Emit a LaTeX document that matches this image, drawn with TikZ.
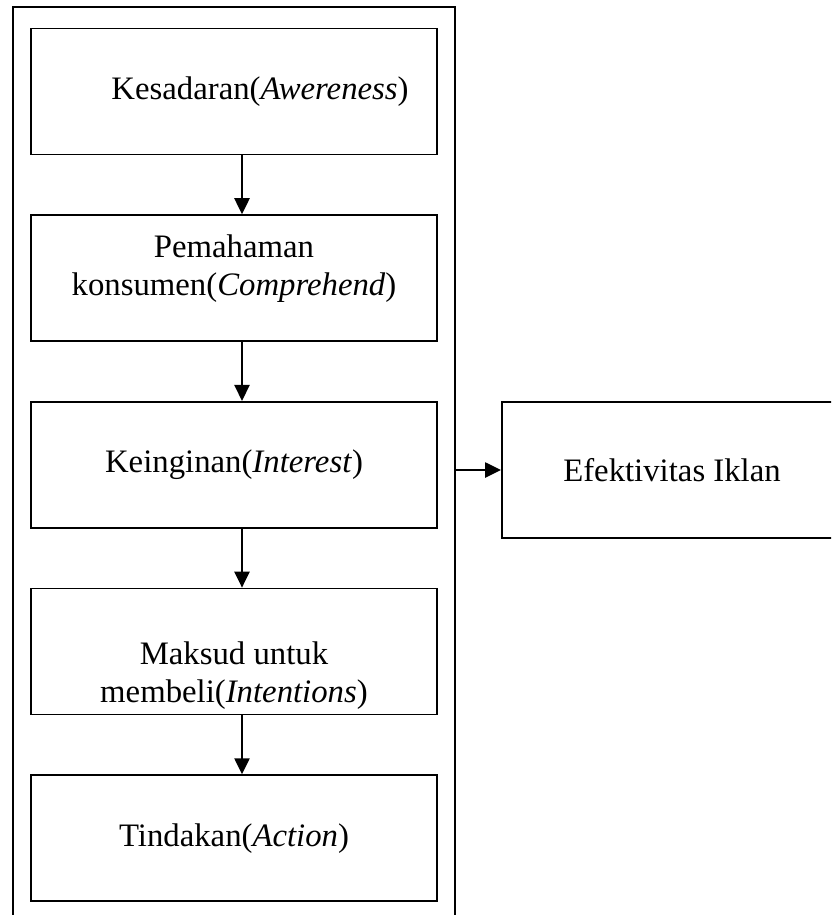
\documentclass[tikz,border=0pt]{standalone}
\usepackage{fontspec}
\setmainfont{Liberation Serif}
\usetikzlibrary{positioning,arrows.meta}
\tikzset{
  stage/.style={draw, line width=1.3pt, minimum width=10.15cm, minimum height=3.15cm, inner sep=0pt},
  flow/.style={-{Triangle[length=4mm,width=3.8mm]}, line width=1.3pt},
}
\begin{document}
\begin{tikzpicture}[x=0.025cm, y=-0.025cm, node distance=1.47cm, font=\fontsize{23.3}{27}\selectfont]
  \useasboundingbox (0,0) rectangle (831,915);
  \clip (0,0) rectangle (831,915);
  % outer frame, runs past the bottom edge
  \node[draw, line width=1.3pt, minimum width=11.05cm, minimum height=23.5cm, anchor=north west, inner sep=0pt] (frame) at (12,6) {};
  \node[stage] (aware) at (234,91.5) {\hspace{1.3cm}Kesadaran(\textit{Awereness})};
  \node[stage, below=of aware] (compr) {};
  \node[align=center, inner sep=0pt] (compr-t) at ([yshift=0.25cm]compr.center) {Pemahaman\\konsumen(\textit{Comprehend})};
  \node[stage, below=of compr] (inter) {Keinginan(\textit{Interest})};
  \node[stage, below=of inter] (intent) {};
  \node[align=center, inner sep=0pt] (intent-t) at ([yshift=-0.6cm]intent.center) {Maksud untuk\\membeli(\textit{Intentions})};
  \node[stage, below=of intent] (act) {Tindakan(\textit{Action})};
  % box on the right, cut by the right edge
  \node[draw, line width=1.3pt, minimum width=8.5cm, minimum height=3.4cm] (efek) at (672,470) {Efektivitas Iklan};
  \foreach \a/\b in {aware/compr, compr/inter, inter/intent, intent/act}
    \draw[flow] ([xshift=0.2cm]\a.south) -- ([xshift=0.2cm]\b.north);
  \draw[flow] (frame.east |- efek.west) -- (efek.west);
\end{tikzpicture}
\end{document}
